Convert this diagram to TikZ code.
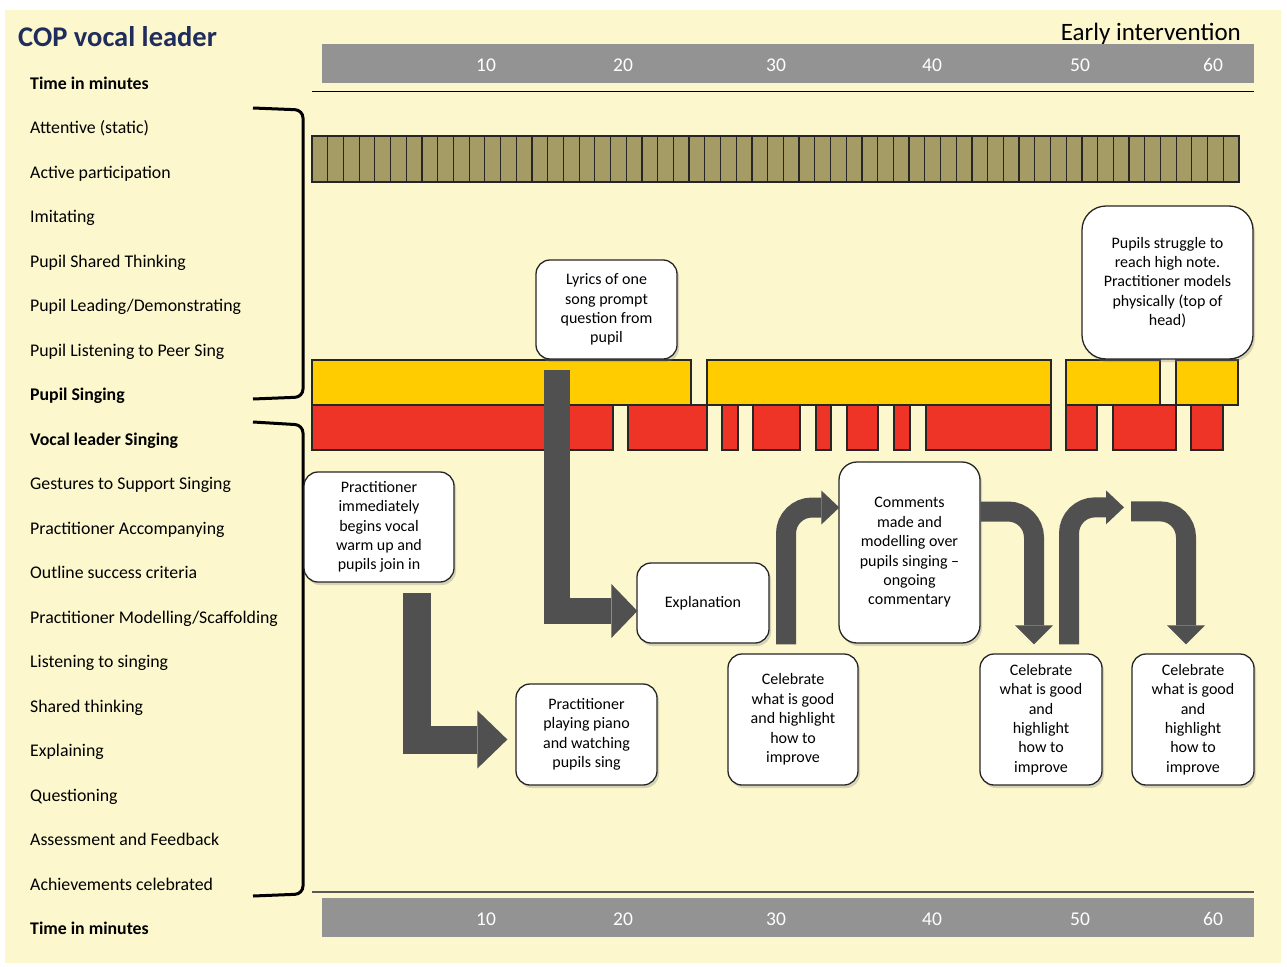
\documentclass[tikz,border=0pt]{standalone}
\usepackage{fontspec}
\setmainfont{Carlito}
\usetikzlibrary{calc,shadows}

\definecolor{cream}{RGB}{252,247,205}
\definecolor{barolive}{RGB}{165,155,100}
\definecolor{baryellow}{RGB}{255,204,0}
\definecolor{barred}{RGB}{238,52,39}
\definecolor{axisgray}{RGB}{147,147,147}
\definecolor{arrowgray}{RGB}{80,80,80}
\definecolor{titleblue}{RGB}{31,45,92}

\tikzset{
  rowlabel/.style={anchor=west, inner sep=0pt, font=\fontsize{17.8}{21}\selectfont, text height=13pt, text depth=4.5pt},
  minlabel/.style={text=white, inner sep=0pt, font=\fontsize{19.5}{22}\selectfont},
  slotcell/.style={draw=black!85, line width=1.2pt},
  callout/.style={draw=black!85, line width=1.3pt, fill=white, rounded corners=14pt, align=center, inner sep=0pt,
    font=\fontsize{16}{19.4}\selectfont, drop shadow={shadow xshift=2pt, shadow yshift=-3pt, opacity=0.3}},
  fatarrow/.style={draw=arrowgray, line cap=butt},
  rowbrace/.style={line width=3pt, rounded corners=8pt}
}

\begin{document}
\begin{tikzpicture}[x=1pt, y=-1pt]
  \useasboundingbox (0,0) rectangle (1287,966);
  \fill[white] (0,0) rectangle (1287,966);
  \fill[cream] (5,10) rectangle (1281,963);

  % heading
  \node[anchor=west, inner sep=0pt, text=titleblue, font=\bfseries\fontsize{28.5}{32}\selectfont] (title) at (18,37) {COP vocal leader};
  \node[anchor=east, inner sep=0pt, font=\fontsize{25}{28}\selectfont] (early) at (1241,34) {Early intervention};

  % time axes
  \fill[axisgray] (322,44) rectangle (1254,83);
  \fill[axisgray] (322,898) rectangle (1254,937);
  \foreach \t/\x in {10/486,20/623,30/776,40/932,50/1080,60/1213} {
    \node[minlabel] (top\t) at (\x,65) {\t};
    \node[minlabel] (bot\t) at (\x,919) {\t};
  }
  \draw[line width=1pt] (312,91) -- (1254,91);
  \draw[line width=1.5pt, black!65] (312,892) -- (1254,892);

  % row labels
  \foreach \lbl [count=\i from 0] in {{\textbf{Time in minutes}}, Attentive (static), Active participation, Imitating,
      Pupil Shared Thinking, Pupil Leading/Demonstrating, Pupil Listening to Peer Sing, {\textbf{Pupil Singing}},
      {\textbf{Vocal leader Singing}}, Gestures to Support Singing, Practitioner Accompanying, Outline success criteria,
      Practitioner Modelling/Scaffolding, Listening to singing, Shared thinking, Explaining, Questioning,
      Assessment and Feedback, Achievements celebrated, {\textbf{Time in minutes}}}
    \node[rowlabel] (row\i) at (30,{85+44.5*\i}) {\lbl};

  % brackets
  \draw[rowbrace] (253,108) -- (303,110) -- (303,397) -- (253,399);
  \draw[rowbrace] (253,422) -- (303,425) -- (303,894) -- (253,896);

  % attentive bar
  \foreach \k in {0,...,58}
    \draw[slotcell, fill=barolive] ({312+\k*15.712},136) rectangle ++(15.712,46);

  % pupil singing
  \foreach \a/\b in {312/691,707/1051,1066/1160,1176/1238}
    \draw[slotcell, fill=baryellow] (\a,360) rectangle (\b,405);

  % vocal leader singing
  \foreach \a/\b in {312/613,628/707,722/738,753/800,816/831,847/878,894/910,926/1051,1066/1097,1113/1176,1191/1223}
    \draw[slotcell, fill=barred] (\a,405) rectangle (\b,450);

  % callouts
  \node[callout, minimum width=141pt, minimum height=99pt] (lyrics) at (606.5,309.5) {Lyrics of one\\song prompt\\question from\\pupil};
  \node[callout, rounded corners=24pt, minimum width=171pt, minimum height=153pt] (struggle) at (1167.5,282.5) {Pupils struggle to\\reach high note.\\Practitioner models\\physically (top of\\head)};
  \node[callout, minimum width=150pt, minimum height=110pt] (warmup) at (379,527) {Practitioner\\immediately\\begins vocal\\warm up and\\pupils join in};
  \node[callout, minimum width=132pt, minimum height=80pt] (explan) at (703,603) {Explanation};
  \node[callout, minimum width=141pt, minimum height=101pt] (piano) at (586.5,734.5) {Practitioner\\playing piano\\and watching\\pupils sing};
  \node[callout, rounded corners=18pt, minimum width=141pt, minimum height=181pt] (comments) at (909.5,552.5) {Comments\\made and\\modelling over\\pupils singing --\\ongoing\\commentary};
  \node[callout, minimum width=130pt, minimum height=131pt] (celA) at (793,719.5) {Celebrate\\what is good\\and highlight\\how to\\improve};
  \node[callout, minimum width=122pt, minimum height=131pt] (celB) at (1041,719.5) {Celebrate\\what is good\\and\\highlight\\how to\\improve};
  \node[callout, minimum width=122pt, minimum height=131pt] (celC) at (1193,719.5) {Celebrate\\what is good\\and\\highlight\\how to\\improve};

  % flow arrows
  \coordinate (a1s) at ($(warmup.south)+(38,10)$);
  \coordinate (a1t) at ($(piano.west)+(-8,5)$);
  \draw[fatarrow, line width=28pt] (a1s) |- ($(a1t)+(-30,0)$);
  \fill[arrowgray] ($(a1t)+(-30,-29)$) -- (a1t) -- ($(a1t)+(-30,29)$) -- cycle;

  \coordinate (a2s) at ($(lyrics.south)+(-49.5,10)$);
  \coordinate (a2t) at ($(explan.west)+(1,8)$);
  \draw[fatarrow, line width=26pt] (a2s) |- ($(a2t)+(-26,0)$);
  \fill[arrowgray] ($(a2t)+(-26,-27)$) -- (a2t) -- ($(a2t)+(-26,27)$) -- cycle;

  \coordinate (a3s) at ($(celA.north)+(-7,-9)$);
  \coordinate (a3t) at ($(comments.west)+(1,-45)$);
  \draw[fatarrow, line width=20pt, rounded corners=26pt] (a3s) |- ($(a3t)+(-18,0)$);
  \fill[arrowgray] ($(a3t)+(-18,-17)$) -- (a3t) -- ($(a3t)+(-18,17)$) -- cycle;

  \coordinate (a4s) at ($(comments.east)+(0,-41)$);
  \coordinate (a4t) at ($(celB.north)+(-7,-9)$);
  \draw[fatarrow, line width=20pt, rounded corners=26pt] (a4s) -| ($(a4t)+(0,-19)$);
  \fill[arrowgray] ($(a4t)+(-19,-19)$) -- (a4t) -- ($(a4t)+(19,-19)$) -- cycle;

  \coordinate (a5s) at ($(celB.north)+(28,-9)$);
  \coordinate (a5t) at ($(celC.north)+(-69,-146)$);
  \draw[fatarrow, line width=20pt, rounded corners=26pt] (a5s) |- ($(a5t)+(-18,0)$);
  \fill[arrowgray] ($(a5t)+(-18,-17)$) -- (a5t) -- ($(a5t)+(-18,17)$) -- cycle;

  \coordinate (a6s) at ($(celC.north)+(-62,-142)$);
  \coordinate (a6t) at ($(celC.north)+(-7,-9)$);
  \draw[fatarrow, line width=20pt, rounded corners=26pt] (a6s) -| ($(a6t)+(0,-19)$);
  \fill[arrowgray] ($(a6t)+(-19,-19)$) -- (a6t) -- ($(a6t)+(19,-19)$) -- cycle;
\end{tikzpicture}
\end{document}
